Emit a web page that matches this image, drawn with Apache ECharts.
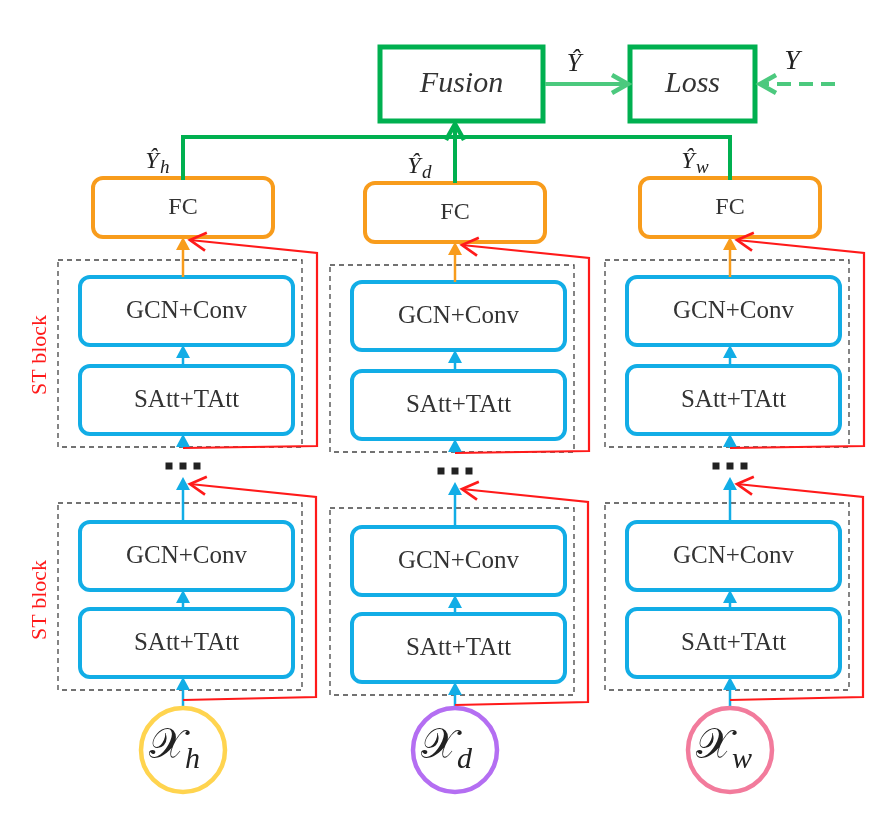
<!DOCTYPE html>
<html><head><meta charset="utf-8">
<script src="https://cdn.jsdelivr.net/npm/echarts@6/dist/echarts.min.js"></script>
<style>html,body{margin:0;padding:0;background:#fff}#c{width:880px;height:837px}</style>
</head><body><div id="c"></div>
<script>
// column layout
const columns = ['h', 'd', 'w'];
const colLeft = [80, 352, 627];
const colDy = [0, 5, 0];
const circleColors = ['#ffd44f', '#b46ef2', '#f27b9c'];
const yHatPos = [[152, 162], [414, 167], [688, 162]];
const blockLabels = ['GCN+Conv', 'SAtt+TAtt'];
const stLabel = 'ST block';
const topBoxes = [
  {x1: 380, y1: 47, x2: 543, y2: 121, text: 'Fusion'},
  {x1: 630, y1: 47, x2: 755, y2: 121, text: 'Loss'}
];

const GREEN = '#00b050', LGREEN = '#4cc97e', ORANGE = '#f89c1c', BLUE = '#12ade6', RED = '#ff1a1a';
const SERIF = '"Liberation Serif","DejaVu Serif",serif';

// build element lists
const rects = [], lines = [], texts = [], circles = [], dots = [];
topBoxes.forEach(b => {
  rects.push({...b, stroke: GREEN, lw: 5, r: 0, font: 'italic 30px ' + SERIF});
});
columns.forEach((c, i) => {
  const L = colLeft[i], d = colDy[i], ax = L + 103;
  rects.push({x1: L + 13, y1: 178 + d, x2: L + 193, y2: 237 + d, stroke: ORANGE, lw: 4, r: 10, text: 'FC', font: '24px ' + SERIF});
  [[260, 447], [503, 690]].forEach(([a, b]) => rects.push({x1: L - 22, y1: a + d, x2: L + 222, y2: b + d, stroke: '#444', lw: 1.3, r: 0, dash: [5, 4]}));
  [[277, 345, 0], [366, 434, 1], [522, 590, 0], [609, 677, 1]].forEach(([a, b, k]) =>
    rects.push({x1: L, y1: a + d, x2: L + 213, y2: b + d, stroke: BLUE, lw: 4, r: 10, text: blockLabels[k], font: '25px ' + SERIF}));
  // arrows
  lines.push({pts: [[ax, 708], [ax, 677 + d]], color: BLUE, lw: 2.5, head: 'fill'});
  lines.push({pts: [[ax, 609 + d], [ax, 590 + d]], color: BLUE, lw: 2.5, head: 'fill'});
  lines.push({pts: [[ax, 522 + d], [ax, 477 + d]], color: BLUE, lw: 2.5, head: 'fill'});
  lines.push({pts: [[ax, 448 + d], [ax, 434 + d]], color: BLUE, lw: 2.5, head: 'fill'});
  lines.push({pts: [[ax, 366 + d], [ax, 345 + d]], color: BLUE, lw: 2.5, head: 'fill'});
  lines.push({pts: [[ax, 277 + d], [ax, 237 + d]], color: ORANGE, lw: 2.5, head: 'fill'});
  lines.push({pts: [[ax, 448 + d], [ax + 134, 446 + d], [ax + 134, 253 + d], [ax + 7, 240 + d]], color: RED, lw: 2.2, head: 'open'});
  lines.push({pts: [[ax, 700 + d], [ax + 133, 697 + d], [ax + 133, 497 + d], [ax + 7, 484 + d]], color: RED, lw: 2.2, head: 'open'});
  [-14, 0, 14].forEach(o => dots.push({x: ax + o, y: 466 + d}));
  circles.push({x: ax, y: 750, r: 42, color: circleColors[i], sub: c});
  texts.push({x: yHatPos[i][0], y: yHatPos[i][1], text: 'Ŷ', sub: c, size: 24});
});
lines.push({pts: [[183, 180], [183, 137], [730, 137], [730, 180]], color: GREEN, lw: 4});
lines.push({pts: [[455, 183], [455, 124]], color: GREEN, lw: 4, head: 'open'});
lines.push({pts: [[545, 84], [628, 84]], color: LGREEN, lw: 4, head: 'open'});
lines.push({pts: [[835, 84], [760, 84]], color: LGREEN, lw: 4, head: 'open', dash: [14, 8]});
texts.push({x: 574, y: 64, text: 'Ŷ', size: 26});
texts.push({x: 792, y: 62, text: 'Y', size: 28});

function C(api, p) { return api.coord(p); }

function rectItem(params, api) {
  const b = rects[params.dataIndex];
  const p1 = C(api, [b.x1, b.y1]), p2 = C(api, [b.x2, b.y2]);
  const ch = [{type: 'rect', shape: {x: p1[0], y: p1[1], width: p2[0] - p1[0], height: p2[1] - p1[1], r: b.r},
    style: {fill: 'none', stroke: b.stroke, lineWidth: b.lw, lineDash: b.dash || null}}];
  if (b.text) ch.push({type: 'text', x: (p1[0] + p2[0]) / 2, y: (p1[1] + p2[1]) / 2,
    style: {text: b.text, font: b.font, fill: '#333', align: 'center', verticalAlign: 'middle'}});
  return {type: 'group', children: ch};
}
function lineItem(params, api) {
  const l = lines[params.dataIndex];
  const pts = l.pts.map(p => C(api, p));
  const ch = [];
  const n = pts.length, e = pts[n - 1], s = pts[n - 2];
  const dx = e[0] - s[0], dy = e[1] - s[1], len = Math.hypot(dx, dy), ux = dx / len, uy = dy / len;
  let body = pts.slice();
  if (l.head === 'fill') body[n - 1] = [e[0] - ux * 10, e[1] - uy * 10];
  ch.push({type: 'polyline', shape: {points: body}, style: {fill: 'none', stroke: l.color, lineWidth: l.lw, lineDash: l.dash || null}});
  if (l.head === 'fill') {
    const bx = e[0] - ux * 13, by = e[1] - uy * 13;
    ch.push({type: 'polygon', shape: {points: [e, [bx - uy * 7, by + ux * 7], [bx + uy * 7, by - ux * 7]]}, style: {fill: l.color}});
  } else if (l.head === 'open') {
    const bx = e[0] - ux * 16, by = e[1] - uy * 16;
    ch.push({type: 'polyline', shape: {points: [[bx - uy * 9, by + ux * 9], e, [bx + uy * 9, by - ux * 9]]}, style: {fill: 'none', stroke: l.color, lineWidth: l.lw + 0.5}});
  }
  return {type: 'group', children: ch};
}
function textItem(params, api) {
  const t = texts[params.dataIndex];
  const p = C(api, [t.x, t.y]);
  const ch = [{type: 'text', x: p[0], y: p[1], style: {text: t.text, font: 'italic ' + t.size + 'px ' + SERIF, fill: '#222', align: 'center', verticalAlign: 'middle'}}];
  if (t.sub) ch.push({type: 'text', x: p[0] + 8, y: p[1] + 6, style: {text: t.sub, font: 'italic 19px ' + SERIF, fill: '#222', align: 'left', verticalAlign: 'middle'}});
  return {type: 'group', children: ch};
}
function circleItem(params, api) {
  const c = circles[params.dataIndex];
  const p = C(api, [c.x, c.y]);
  return {type: 'group', children: [
    {type: 'circle', shape: {cx: p[0], cy: p[1], r: c.r}, style: {fill: '#fff', stroke: c.color, lineWidth: 4.5}},
    {type: 'text', x: p[0] + 2, y: p[1] - 3, style: {text: '𝒳', font: '42px "DejaVu Serif","Noto Sans",serif', fill: '#222', align: 'right', verticalAlign: 'middle'}},
    {type: 'text', x: p[0] + 2, y: p[1] + 10, style: {text: c.sub, font: 'italic 30px ' + SERIF, fill: '#222', align: 'left', verticalAlign: 'middle'}}
  ]};
}
function dotItem(params, api) {
  const d = dots[params.dataIndex];
  const p = C(api, [d.x, d.y]);
  return {type: 'rect', shape: {x: p[0] - 3.5, y: p[1] - 3.5, width: 7, height: 7}, style: {fill: '#222'}};
}
function stItem(params, api) {
  const y = params.dataIndex ? 600 : 355;
  const p = C(api, [40, y]);
  return {type: 'text', x: p[0], y: p[1], rotation: Math.PI / 2,
    style: {text: stLabel, font: '22px ' + SERIF, fill: RED, align: 'center', verticalAlign: 'middle'}};
}
const idx = a => a.map((_, i) => [i]);
const chart = echarts.init(document.getElementById('c'));
chart.setOption({
  animation: false,
  grid: {left: 0, right: 0, top: 0, bottom: 0},
  xAxis: {type: 'value', min: 0, max: 880, show: false},
  yAxis: {type: 'value', min: 0, max: 837, inverse: true, show: false},
  series: [
    {type: 'custom', renderItem: rectItem, data: idx(rects)},
    {type: 'custom', renderItem: lineItem, data: idx(lines)},
    {type: 'custom', renderItem: textItem, data: idx(texts)},
    {type: 'custom', renderItem: circleItem, data: idx(circles)},
    {type: 'custom', renderItem: dotItem, data: idx(dots)},
    {type: 'custom', renderItem: stItem, data: [[0], [1]]}
  ]
});
</script></body></html>
